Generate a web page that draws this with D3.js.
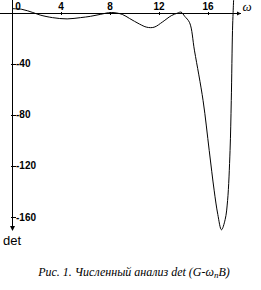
<!DOCTYPE html>
<html>
<head>
<meta charset="utf-8">
<script src="https://cdn.jsdelivr.net/npm/d3@7"></script>
<style>
  html, body { margin: 0; padding: 0; background: #fff; }
  svg { display: block; }
</style>
</head>
<body>
<div id="chart"></div>
<script>
// Values
const omega = [0, 0.8, 1.7, 2.3, 3.3, 4.5, 5.6, 6.4, 7.2, 8.1, 9.0, 9.6, 10.4, 11.0, 11.6, 12.3, 13.0, 13.5, 13.8,
               14.1, 14.5, 14.9, 15.6, 16.1, 16.5, 16.8, 17.1, 17.4, 17.6, 17.8, 17.9, 18.0, 18.05, 18.1];
const det   = [3, 2.5, 0, -2, -4, -5, -4, -3, -1.5, 0, -1.5, -4.7, -9, -11.5, -11.5, -7.3, -2.5, -0.5, 0.3,
               -3, -8, -30, -69, -108, -139, -158, -170, -162, -147, -108, -69, -14, 0, 12];
const xTicks = [0, 4, 8, 12, 16];
const yTicks = [-40, -80, -120, -160];
const caption = 'Рис. 1. Численный анализ det (G-ω';

const W = 261, H = 290;

const svg = d3.select('#chart').append('svg')
    .attr('width', W)
    .attr('height', H);

const x = d3.scaleLinear().domain([0, 16]).range([12, 208]);
const y = d3.scaleLinear().domain([0, -160]).range([12.5, 217]);

const y0 = Math.round(y(0)) + 0.5;
const x0 = Math.round(x(0)) + 0.5;

// ── Axes ──────────────────────────────────────────────────────────────────
const axes = svg.append('g').attr('stroke', '#000').attr('stroke-width', 1)
    .attr('shape-rendering', 'crispEdges');

// x axis with arrow to the right
axes.append('line').attr('x1', 0).attr('x2', 241).attr('y1', y0).attr('y2', y0);
svg.append('path')
    .attr('d', `M241,${y0} l-4,-2 l0,4 Z`)
    .attr('fill', '#000');

// y axis with arrow downwards
axes.append('line').attr('x1', x0).attr('x2', x0).attr('y1', 0).attr('y2', 230);
svg.append('path')
    .attr('d', `M${x0},231 l-2.5,-5 l5,0 Z`)
    .attr('fill', '#000');

// tick marks
axes.selectAll('line.xt').data(xTicks.slice(1)).enter().append('line')
    .attr('class', 'xt')
    .attr('x1', d => Math.round(x(d)) + 0.5).attr('x2', d => Math.round(x(d)) + 0.5)
    .attr('y1', y0 - 1.5).attr('y2', y0 + 1.5);

axes.selectAll('line.yt').data(yTicks).enter().append('line')
    .attr('class', 'yt')
    .attr('x1', x0 - 2).attr('x2', x0 + 3)
    .attr('y1', d => Math.round(y(d)) + 0.5).attr('y2', d => Math.round(y(d)) + 0.5);

// tick labels
const tickFont = 'bold 10px "Liberation Sans", Arial, sans-serif';

svg.selectAll('text.xl').data(xTicks).enter().append('text')
    .attr('class', 'xl')
    .attr('x', d => d === 0 ? x(d) + 6 : x(d))
    .attr('y', 10)
    .attr('text-anchor', 'middle')
    .style('font', tickFont)
    .text(d => d);

svg.selectAll('text.yl').data(yTicks).enter().append('text')
    .attr('class', 'yl')
    .attr('x', 16)
    .attr('y', d => y(d))
    .attr('dy', '0.35em')
    .style('font', tickFont)
    .text(d => d);

// axis names
svg.append('text')
    .attr('x', 247).attr('y', 11)
    .attr('text-anchor', 'middle')
    .style('font', 'italic 13px "Liberation Serif", "Times New Roman", serif')
    .text('ω');

svg.append('text')
    .attr('x', 12).attr('y', 245)
    .attr('text-anchor', 'middle')
    .style('font', '13px "Liberation Sans", Arial, sans-serif')
    .text('det');

// ── Curve ─────────────────────────────────────────────────────────────────
const pts = omega.map((w, i) => [w, det[i]]);

const line = d3.line()
    .x(d => x(d[0]))
    .y(d => y(d[1]))
    .curve(d3.curveCatmullRom.alpha(0.5));

svg.append('path')
    .datum(pts)
    .attr('d', line)
    .attr('fill', 'none')
    .attr('stroke', '#000')
    .attr('stroke-width', 1);

// ── Caption ───────────────────────────────────────────────────────────────
const cap = svg.append('text')
    .attr('x', 134).attr('y', 276)
    .attr('text-anchor', 'middle')
    .style('font', 'italic 12px "Liberation Serif", "Times New Roman", serif');
cap.append('tspan').text(caption);
cap.append('tspan').attr('dy', 2).style('font-size', '9px').text('п');
cap.append('tspan').attr('dy', -2).text('B)');
</script>
</body>
</html>
